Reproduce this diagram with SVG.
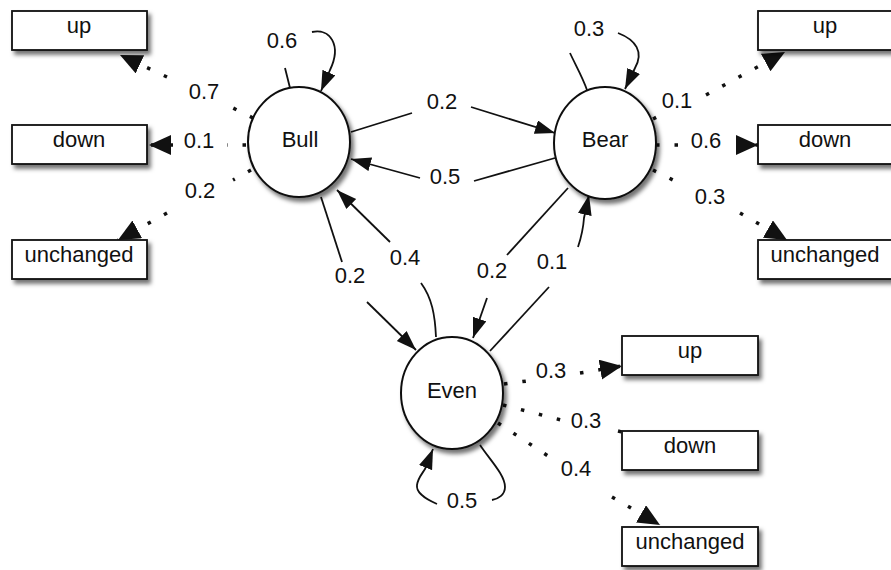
<svg xmlns="http://www.w3.org/2000/svg" width="891" height="570" viewBox="0 0 891 570">
<style>
text{font-family:"Liberation Sans",Arial,sans-serif;font-size:22px;fill:#111;text-anchor:middle}
.node{fill:#fff;stroke:#111;stroke-width:2;filter:url(#sh)}
.box{fill:#fff;stroke:#111;stroke-width:1.8;filter:url(#sh)}
.edge{fill:none;stroke:#111;stroke-width:1.8;marker-end:url(#ah)}
.plain{fill:none;stroke:#111;stroke-width:1.8}
.dot{fill:none;stroke:#111;stroke-width:3.5;stroke-dasharray:3.5 15}
.emit{marker-end:url(#eh)}
</style>
<defs>
<filter id="sh" x="-20%" y="-20%" width="150%" height="150%">
<feDropShadow dx="3" dy="4" stdDeviation="2" flood-color="#000" flood-opacity="0.55"/>
</filter>
<marker id="ah" markerUnits="userSpaceOnUse" markerWidth="21" markerHeight="15" refX="20" refY="7" orient="auto">
<path d="M0,0 L20,7 L0,14 z" fill="#111"/>
</marker>
<marker id="eh" markerUnits="userSpaceOnUse" markerWidth="23" markerHeight="21" refX="22" refY="10" orient="auto">
<path d="M0,0 L22,10 L0,20 z" fill="#111"/>
</marker>
</defs>
<rect width="891" height="570" fill="#fff"/>

<g id="connectors">
<!-- Bull self loop -->
<path class="plain" d="M290 88 L285 68"/>
<path class="edge" d="M312 32 C330 28 342 45 330 70 L321 91"/>
<!-- Bull to Bear -->
<path class="plain" d="M351 132 L412 113"/>
<path class="edge" d="M471 107 L555 133"/>
<!-- Bear to Bull -->
<path class="plain" d="M555 158 L474 181"/>
<path class="edge" d="M420 178 L351 159"/>
<!-- Bull to Even -->
<path class="plain" d="M321 197 L342 262"/>
<path class="edge" d="M367 302 L416 350"/>
<!-- Even to Bull -->
<path class="plain" d="M436 337 C435 315 432 298 421 283"/>
<path class="edge" d="M390 242 L337 190"/>
<!-- Bear to Even -->
<path class="plain" d="M568 188 L507 255"/>
<path class="edge" d="M487 298 L473 338"/>
<!-- Even to Bear -->
<path class="plain" d="M490 351 L549 287"/>
<path class="edge" d="M578 247 Q583 232 584 218 L589 195"/>
<!-- Bear self loop -->
<path class="plain" d="M587 90 C583 78 575 64 570 53"/>
<path class="edge" d="M618 33 C636 40 644 52 635 68 L625 89"/>
<!-- Even self loop -->
<path class="plain" d="M480 445 C490 460 505 475 505 487 C505 495 498 499 492 500"/>
<path class="edge" d="M437 504 C425 499 416 492 417 485 C418 478 422 474 425 469 L433 449"/>

<!-- Bull emissions -->
<path class="dot" d="M253 118 L233 108"/>
<path class="dot emit" d="M167 77 L120 55"/>
<path class="dot" d="M246 145 L227 145"/>
<path class="dot emit" d="M173 145 L149 145"/>
<path class="dot" d="M251 170 L233 180"/>
<path class="dot emit" d="M167 213 L118 240"/>
<!-- Bear emissions -->
<path class="dot" d="M653 119 L657 117"/>
<path class="dot emit" d="M706 95 L785 52"/>
<path class="dot" d="M656 145 L680 145"/>
<path class="dot emit" d="M737 145 L758 145"/>
<path class="dot" d="M653 170 L673 180"/>
<path class="dot emit" d="M740 213 L787 240"/>
<!-- Even emissions -->
<path class="dot" d="M504 384 L527 381"/>
<path class="dot emit" d="M580 373 L622 366"/>
<path class="dot" d="M503 405 L561 420"/>
<path class="dot" d="M618 431 L622 432"/>
<path class="dot" d="M498 423 L551 458"/>
<path class="dot emit" d="M612 497 L660 525"/>

<!-- labels -->
<text x="282" y="48">0.6</text>
<text x="589" y="36">0.3</text>
<text x="442" y="109">0.2</text>
<text x="445" y="184">0.5</text>
<text x="350" y="283">0.2</text>
<text x="405" y="265">0.4</text>
<text x="492" y="278">0.2</text>
<text x="552" y="269">0.1</text>
<text x="462" y="508">0.5</text>
<text x="204" y="99">0.7</text>
<text x="199" y="148">0.1</text>
<text x="200" y="198">0.2</text>
<text x="677" y="108">0.1</text>
<text x="706" y="148">0.6</text>
<text x="710" y="204">0.3</text>
<text x="551" y="378">0.3</text>
<text x="586" y="428">0.3</text>
<text x="576" y="476">0.4</text>
</g>

<g id="bull"><ellipse class="node" cx="299" cy="142" rx="51" ry="55"/><text x="300" y="147">Bull</text></g>
<g id="bear"><ellipse class="node" cx="605" cy="143" rx="51" ry="56"/><text x="605" y="147">Bear</text></g>
<g id="even"><ellipse class="node" cx="452" cy="393" rx="51" ry="56"/><text x="452" y="398">Even</text></g>

<g id="bull-up"><rect class="box" x="12" y="11" width="135" height="39"/><text x="79" y="33">up</text></g>
<g id="bull-down"><rect class="box" x="12" y="125" width="135" height="39"/><text x="79" y="147">down</text></g>
<g id="bull-unchanged"><rect class="box" x="12" y="240" width="135" height="39"/><text x="79" y="262">unchanged</text></g>

<g id="bear-up"><rect class="box" x="758" y="11" width="135" height="39"/><text x="825" y="33">up</text></g>
<g id="bear-down"><rect class="box" x="758" y="125" width="135" height="39"/><text x="825" y="147">down</text></g>
<g id="bear-unchanged"><rect class="box" x="758" y="240" width="135" height="39"/><text x="825" y="262">unchanged</text></g>

<g id="even-up"><rect class="box" x="622" y="336" width="136" height="39"/><text x="690" y="358">up</text></g>
<g id="even-down"><rect class="box" x="622" y="431" width="136" height="39"/><text x="690" y="453">down</text></g>
<g id="even-unchanged"><rect class="box" x="622" y="527" width="136" height="39"/><text x="690" y="549">unchanged</text></g>
</svg>
